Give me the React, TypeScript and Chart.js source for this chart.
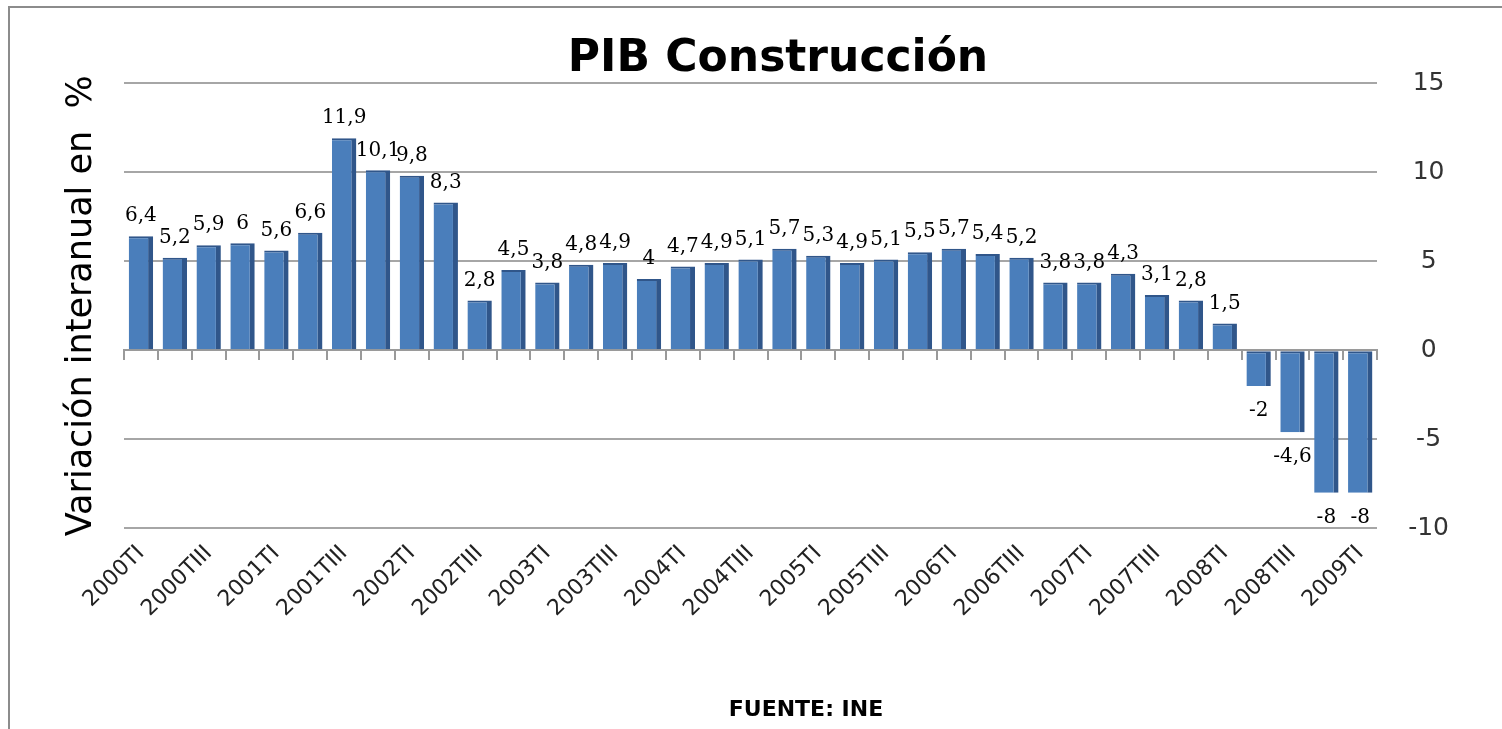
import React, { useEffect, useRef } from "react";
import { Chart, registerables } from "chart.js";

Chart.register(...registerables);

const years = ["2000", "2001", "2002", "2003", "2004", "2005", "2006", "2007", "2008"];
const quarters = ["TI", "TII", "TIII", "TIV"];
const categories: string[] = [];
years.forEach((y) => quarters.forEach((q) => categories.push(y + q)));
categories.push("2009TI");

const values = [
  6.4, 5.2, 5.9, 6, 5.6, 6.6, 11.9, 10.1, 9.8, 8.3,
  2.8, 4.5, 3.8, 4.8, 4.9, 4, 4.7, 4.9, 5.1, 5.7,
  5.3, 4.9, 5.1, 5.5, 5.7, 5.4, 5.2, 3.8, 3.8, 4.3,
  3.1, 2.8, 1.5, -2, -4.6, -8, -8,
];

const yTicks = [-10, -5, 0, 5, 10, 15];

const titleText = "PIB Construcción";
const yTitleText = "Variación interanual en  %";
const sourceText = "FUENTE: INE";

const fmt = (v: number) => String(v).replace(".", ",");

const decorPlugin = {
  id: "decor",
  beforeDraw(chart: any) {
    const ctx = chart.ctx;
    ctx.save();
    ctx.strokeStyle = "#8c8c8c";
    ctx.lineWidth = 2;
    ctx.beginPath();
    ctx.moveTo(9, chart.height);
    ctx.lineTo(9, 7);
    ctx.lineTo(chart.width, 7);
    ctx.stroke();
    ctx.restore();
  },
  afterDraw(chart: any) {
    const ctx = chart.ctx;
    ctx.save();
    ctx.fillStyle = "#000";
    ctx.textAlign = "center";
    ctx.textBaseline = "alphabetic";
    ctx.font = "bold 44px 'DejaVu Sans'";
    ctx.fillText(titleText, 778, 71);
    ctx.font = "bold 22px 'DejaVu Sans'";
    ctx.fillText(sourceText, 806, 716);
    ctx.restore();
  },
};

const labelPlugin = {
  id: "barLabels",
  afterDatasetsDraw(chart: any) {
    const ctx = chart.ctx;
    const meta = chart.getDatasetMeta(0);
    const data = chart.data.datasets[0].data as number[];
    ctx.save();
    ctx.fillStyle = "#000";
    ctx.font = "20px 'DejaVu Serif'";
    ctx.textAlign = "center";
    ctx.textBaseline = "middle";
    meta.data.forEach((el: any, i: number) => {
      const v = data[i];
      const y = v >= 0 ? el.y - 20 : el.y + 25;
      ctx.fillText(fmt(v), el.x, y);
    });
    ctx.restore();
  },
};

export default function App() {
  const ref = useRef<HTMLCanvasElement | null>(null);

  useEffect(() => {
    if (!ref.current) return;
    const chart = new Chart(ref.current, {
      type: "bar",
      data: {
        labels: categories,
        datasets: [
          {
            data: values,
            backgroundColor: "#4A7EBB",
            borderColor: "#30568A",
            borderWidth: { top: 2, right: 5, bottom: 0, left: 0 },
            borderSkipped: false,
            barPercentage: 0.72,
            categoryPercentage: 1,
            yAxisID: "y",
            xAxisID: "x",
          },
        ],
      },
      options: {
        animation: false,
        responsive: false,
        layout: { padding: { left: 41, right: 22, top: 83, bottom: 95 } },
        plugins: {
          legend: { display: false },
          tooltip: { enabled: false },
          title: { display: false },
        },
        scales: {
          x: {
            type: "category",
            position: "bottom",
            offset: true,
            grid: { display: false, drawTicks: false },
            border: { display: false },
            ticks: {
              autoSkip: false,
              maxRotation: 45,
              minRotation: 45,
              padding: 12,
              color: "#222",
              font: { family: "'DejaVu Sans'", size: 22 },
              callback: (_v: any, i: number) => (i % 2 === 0 ? categories[i] : ""),
            },
          },
          x2: {
            type: "category",
            axis: "x",
            labels: categories,
            position: { y: 0 },
            offset: true,
            grid: {
              display: true,
              drawOnChartArea: false,
              drawTicks: true,
              tickLength: 9,
              offset: true,
              color: "#9a9a9a",
              lineWidth: 2,
            },
            border: { display: true, color: "#9a9a9a", width: 2 },
            ticks: { display: false },
          },
          y: {
            type: "linear",
            position: "right",
            min: -10,
            max: 15,
            afterBuildTicks: (axis: any) => {
              axis.ticks = yTicks.map((v) => ({ value: v }));
            },
            grid: { color: "#a6a6a6", lineWidth: 2, drawTicks: false },
            border: { display: false },
            ticks: {
              padding: 31,
              crossAlign: "center",
              color: "#333",
              font: { family: "'DejaVu Sans'", size: 25 },
              callback: (v: any) => String(v),
            },
          },
          y2: {
            type: "linear",
            axis: "y",
            position: "left",
            min: 0,
            max: 1,
            grid: { display: false, drawTicks: false },
            border: { display: false },
            ticks: { display: false },
            title: {
              display: true,
              text: yTitleText,
              color: "#000",
              font: { family: "'DejaVu Sans'", size: 35 },
              padding: { top: 20, bottom: 21 },
            },
          },
        },
      } as any,
      plugins: [decorPlugin, labelPlugin],
    });
    return () => chart.destroy();
  }, []);

  return (
    <div style={{ position: "absolute", left: 0, top: 0, width: 1502, height: 729, background: "#fff" }}>
      <canvas ref={ref} width={1502} height={729} />
    </div>
  );
}
